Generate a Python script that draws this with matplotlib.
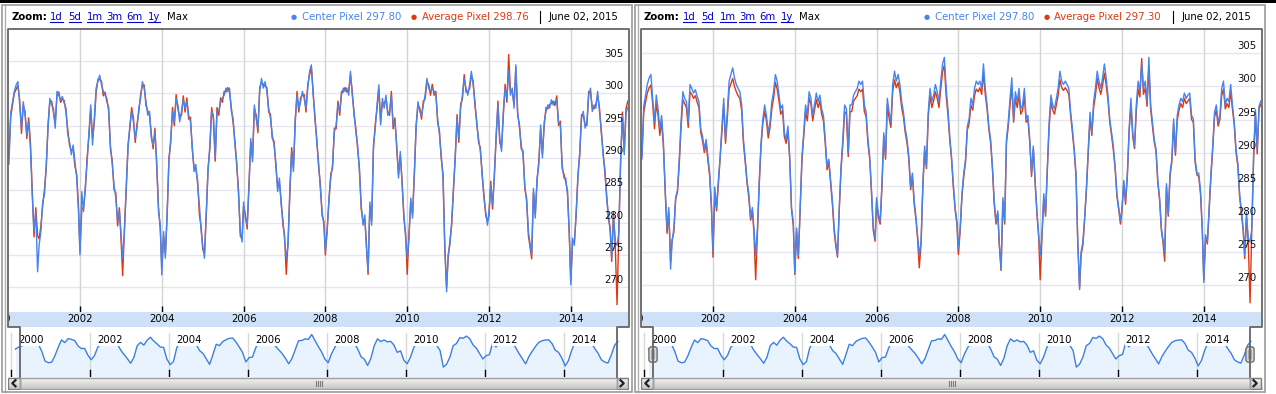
import numpy as np
import pandas as pd
import matplotlib
matplotlib.use("Agg")
import matplotlib.pyplot as plt
from matplotlib.patches import Rectangle, FancyBboxPatch
from matplotlib.lines import Line2D
from matplotlib.colors import LinearSegmentedColormap
import matplotlib.transforms as mtransforms

plt.rcParams['font.family'] = ['DejaVu Sans']

# ---------------- data (16-day composites, 2000 DOY 49 .. 2015 DOY 145) ----------------
center_pixel = [
    290.0, 291.0, 293.0, 289.0, 297.0, 298.7, 300.3, 301.3, 301.8, 298.2, 294.6, 298.7, 296.6, 293.6, 295.6, 291.5, 284.3, 278.6, 281.7, 272.4,
    276.5, 278.6, 283.2, 284.3, 289.0, 294.6, 299.2, 298.2, 297.7, 294.6, 300.3, 299.7, 299.0, 299.5, 298.5, 297.7, 293.6, 292.5, 290.5, 292.0, 289.4, 286.9, 281.7,
    275.0, 284.8, 281.7, 285.8, 289.4, 294.0, 298.2, 292.0, 296.1, 300.8, 301.8, 302.8, 301.3, 300.3, 299.7, 299.2, 297.2, 292.0, 289.0, 285.8, 283.8, 280.2, 281.7,
    278.6, 274.5, 278.6, 285.8, 291.5, 295.1, 297.2, 295.6, 293.0, 294.6, 297.7, 299.2, 301.8, 300.8, 298.7, 296.6, 297.2, 293.0, 292.0, 294.0, 289.4, 281.7, 279.6,
    271.9, 278.6, 274.5, 281.7, 289.4, 293.0, 297.2, 295.6, 299.2, 298.2, 295.6, 297.2, 299.0, 297.7, 298.7, 296.6, 295.6, 292.0, 287.9, 289.0, 285.8, 282.7, 278.6,
    276.5, 274.5, 281.7, 287.9, 292.0, 297.2, 296.6, 290.0, 297.2, 297.2, 298.7, 299.2, 299.7, 300.8, 300.3, 300.8, 297.2, 296.1, 292.0, 289.4, 284.3, 278.6, 277.0,
    283.2, 280.7, 279.6, 285.3, 293.0, 289.4, 298.2, 296.1, 294.6, 300.3, 302.3, 300.8, 301.8, 300.3, 297.7, 296.1, 293.6, 292.0, 289.4, 284.8, 286.9, 282.7, 280.2,
    277.6, 274.5, 276.5, 285.3, 291.0, 287.9, 296.1, 299.7, 297.7, 298.7, 300.3, 299.2, 297.7, 300.8, 303.4, 304.4, 299.7, 296.6, 292.5, 289.4, 285.3, 281.7, 279.6,
    275.5, 278.6, 283.8, 286.9, 289.0, 294.0, 295.1, 298.2, 297.2, 299.7, 300.8, 300.3, 300.8, 299.7, 303.4, 299.7, 297.2, 294.0, 292.0, 287.9, 282.7, 279.6, 281.2,
    276.5, 272.4, 283.2, 279.6, 292.0, 294.6, 298.2, 301.3, 295.1, 299.2, 297.7, 299.7, 296.6, 297.2, 299.7, 295.1, 295.6, 292.0, 286.9, 291.0, 285.8, 281.2, 277.6,
    274.5, 277.6, 283.8, 280.7, 287.9, 294.6, 298.7, 297.2, 296.6, 298.2, 299.7, 302.3, 300.8, 300.3, 300.8, 300.3, 299.7, 296.1, 293.6, 290.5, 286.9, 276.5, 269.3,
    275.0, 276.5, 280.2, 284.8, 290.5, 296.1, 293.0, 297.7, 299.7, 302.3, 300.8, 299.7, 301.3, 303.4, 301.3, 298.7, 295.1, 293.0, 291.0, 287.9, 283.8, 281.7, 279.6,
    281.7, 285.8, 282.7, 286.9, 293.6, 298.2, 293.0, 291.0, 297.2, 300.8, 299.2, 303.5, 299.7, 300.8, 297.7, 304.4, 297.2, 294.6, 292.0, 290.5, 285.8, 283.2, 278.6,
    277.0, 275.0, 285.3, 280.7, 286.9, 289.0, 295.1, 290.0, 295.6, 297.2, 298.2, 297.7, 299.0, 298.2, 298.7, 299.0, 295.6, 295.1, 289.0, 286.9, 286.9, 284.3, 278.6,
    270.4, 277.6, 276.5, 281.7, 286.9, 291.0, 296.1, 297.2, 294.6, 295.6, 299.7, 300.8, 297.2, 298.2, 297.7, 300.3, 297.2, 294.6, 290.5, 288.4, 283.8, 281.2, 278.6,
    274.5, 281.0, 277.0, 276.5, 278.5, 290.0, 296.5, 290.5, 297.0, 297.8,
]

average_pixel_left = [
    290.3, 291.4, 292.5, 290.5, 296.4, 298.2, 300.0, 300.6, 301.2, 299.0, 293.8, 298.1, 297.2, 293.0, 296.2, 292.4, 285.0, 277.8, 282.3, 278.0,
    277.5, 279.5, 282.6, 285.1, 288.4, 295.2, 298.6, 298.8, 297.1, 295.3, 299.6, 300.2, 298.6, 299.1, 298.9, 297.1, 294.4, 291.9, 291.1, 291.5, 288.7, 287.5, 282.4,
    275.6, 282.0, 282.4, 285.1, 290.1, 293.4, 297.6, 293.1, 295.5, 300.1, 302.2, 302.1, 301.9, 299.6, 300.2, 298.7, 297.8, 291.3, 289.6, 285.1, 284.6, 279.5, 282.3,
    277.9, 271.8, 279.3, 285.1, 292.1, 294.5, 297.8, 296.2, 292.4, 295.2, 297.1, 299.8, 301.2, 301.3, 298.1, 297.3, 296.6, 293.6, 291.4, 294.6, 288.7, 282.4, 278.9,
    273.0, 277.9, 275.2, 281.1, 290.0, 292.4, 297.8, 295.0, 299.8, 297.6, 296.3, 296.6, 299.6, 297.1, 299.3, 296.0, 296.3, 291.3, 288.6, 288.3, 286.5, 281.2, 279.3,
    275.9, 275.2, 281.1, 288.5, 291.4, 297.8, 295.9, 289.5, 297.8, 296.6, 299.3, 298.6, 300.3, 300.2, 300.9, 300.1, 297.8, 295.4, 292.6, 288.8, 285.0, 277.9, 277.6,
    282.5, 281.3, 279.0, 286.0, 292.4, 290.0, 297.6, 296.7, 293.9, 300.9, 301.7, 301.4, 301.1, 300.9, 297.1, 296.8, 293.0, 292.6, 288.8, 285.5, 286.2, 283.3, 279.6,
    278.2, 272.0, 277.2, 284.6, 291.6, 288.5, 295.4, 300.3, 297.1, 299.3, 299.7, 299.8, 297.1, 301.4, 302.8, 304.0, 300.3, 296.0, 293.1, 288.8, 286.0, 281.1, 280.2,
    275.0, 279.2, 283.2, 287.5, 288.4, 294.6, 294.5, 298.8, 296.6, 300.3, 300.2, 300.9, 300.2, 300.3, 302.8, 300.3, 296.6, 294.6, 291.4, 288.5, 282.1, 280.2, 280.6,
    277.1, 272.0, 282.6, 280.2, 291.4, 295.2, 297.6, 300.7, 295.7, 298.6, 298.3, 299.1, 297.2, 296.6, 300.3, 294.5, 296.2, 291.4, 287.5, 290.4, 286.4, 280.6, 278.2,
    272.0, 278.2, 283.2, 281.3, 287.3, 295.2, 298.1, 297.8, 296.0, 298.8, 299.1, 301.7, 301.4, 299.7, 301.4, 299.7, 300.3, 295.5, 294.2, 289.9, 287.5, 275.9, 270.0,
    274.4, 277.1, 279.6, 285.4, 289.9, 296.7, 292.4, 298.3, 299.1, 302.9, 300.2, 300.3, 300.7, 302.8, 301.9, 298.1, 295.7, 292.4, 291.6, 287.3, 284.4, 281.1, 280.2,
    281.1, 286.4, 282.1, 287.5, 293.0, 298.8, 292.4, 291.6, 296.6, 301.4, 298.6, 306.0, 300.3, 300.2, 298.3, 304.0, 296.6, 295.2, 291.4, 291.1, 285.2, 283.8, 278.0,
    276.4, 274.4, 284.7, 281.3, 286.3, 289.6, 294.5, 290.6, 295.0, 297.8, 297.6, 298.3, 298.4, 298.8, 298.1, 299.6, 295.0, 295.7, 288.4, 287.5, 286.3, 284.9, 278.0,
    271.0, 277.0, 277.1, 281.1, 287.5, 290.4, 296.7, 296.6, 295.2, 295.0, 300.3, 300.2, 297.8, 297.6, 298.3, 299.7, 297.8, 294.0, 291.1, 287.8, 284.4, 280.6, 279.2,
    274.0, 281.6, 276.4, 267.3, 279.0, 289.4, 297.1, 291.0, 297.6, 298.8,
]

average_pixel_right = [
    290.0, 290.8, 292.4, 289.5, 296.0, 297.6, 299.0, 299.8, 300.2, 297.4, 293.6, 297.4, 295.6, 292.6, 294.8, 290.8, 284.0, 277.8, 281.0, 273.5,
    276.8, 278.0, 283.0, 284.0, 288.2, 293.8, 298.0, 297.4, 296.8, 293.8, 299.2, 298.8, 298.2, 298.6, 297.6, 296.8, 293.0, 291.8, 290.0, 291.4, 288.8, 286.4, 281.4,
    274.2, 283.8, 281.2, 285.2, 289.0, 293.2, 297.2, 291.4, 295.2, 299.6, 300.4, 301.2, 300.0, 299.2, 298.6, 298.2, 296.4, 291.4, 288.6, 285.4, 283.2, 279.8, 281.2,
    278.0, 270.8, 278.0, 285.2, 291.0, 294.4, 296.2, 294.8, 292.2, 293.8, 296.6, 298.2, 300.6, 299.6, 297.8, 295.8, 296.4, 292.4, 291.4, 293.2, 289.0, 281.4, 279.0,
    271.6, 278.0, 274.0, 281.2, 288.8, 292.4, 296.2, 294.8, 298.2, 297.4, 294.8, 296.4, 298.0, 296.8, 297.8, 295.8, 294.8, 291.4, 287.4, 288.6, 285.4, 282.2, 278.0,
    276.0, 274.2, 281.4, 287.4, 291.4, 296.2, 295.8, 289.4, 296.2, 296.2, 297.8, 298.2, 298.6, 299.6, 299.2, 299.6, 296.2, 295.4, 291.4, 289.0, 283.8, 278.2, 276.6,
    282.6, 280.2, 279.2, 284.8, 292.4, 289.0, 297.2, 295.2, 293.8, 299.2, 301.0, 299.8, 300.6, 299.2, 296.8, 295.4, 293.0, 291.4, 289.0, 284.4, 286.4, 282.2, 279.8,
    277.2, 272.6, 276.2, 284.8, 290.4, 287.6, 295.4, 298.6, 296.8, 297.8, 299.2, 298.2, 296.8, 299.6, 302.2, 303.2, 298.6, 295.8, 292.0, 289.0, 284.8, 281.4, 279.2,
    274.6, 278.2, 283.4, 286.4, 288.6, 293.4, 294.4, 297.2, 296.4, 298.6, 299.6, 299.2, 299.8, 298.8, 302.0, 298.8, 296.6, 293.6, 291.4, 287.6, 282.2, 279.2, 280.8,
    276.0, 272.2, 282.6, 279.2, 291.4, 294.0, 297.2, 300.0, 294.6, 298.2, 296.8, 298.6, 295.8, 296.4, 298.6, 294.6, 295.0, 291.6, 286.4, 290.6, 285.4, 280.8, 277.2,
    270.8, 277.2, 283.2, 280.4, 287.4, 293.8, 297.6, 296.4, 295.8, 297.2, 298.6, 301.0, 299.8, 299.4, 299.8, 299.4, 298.8, 295.6, 293.0, 290.2, 286.4, 276.2, 269.6,
    274.6, 276.0, 280.0, 284.4, 290.0, 295.2, 292.6, 296.8, 298.6, 301.2, 299.8, 298.8, 300.2, 302.0, 300.2, 298.0, 294.6, 292.6, 290.4, 287.6, 283.4, 281.4, 279.2,
    281.2, 285.4, 282.2, 286.4, 293.2, 297.2, 292.4, 290.6, 296.4, 299.6, 298.4, 304.2, 298.8, 299.8, 297.0, 303.0, 296.6, 294.0, 291.6, 290.2, 285.4, 282.8, 278.2,
    276.6, 273.6, 284.8, 280.4, 286.4, 288.6, 294.4, 289.6, 294.8, 296.4, 297.4, 296.8, 298.2, 297.4, 297.8, 298.2, 295.0, 294.6, 288.6, 286.6, 286.4, 283.8, 278.2,
    270.8, 277.2, 276.2, 281.4, 286.4, 290.6, 295.4, 296.4, 294.0, 295.0, 298.6, 299.6, 296.6, 297.4, 296.8, 299.2, 296.6, 294.2, 290.0, 288.0, 283.4, 280.8, 278.2,
    274.0, 280.2, 276.4, 267.3, 278.8, 289.2, 295.8, 289.8, 296.6, 297.3,
]

legend_center = "Center Pixel 297.80"
legend_avg_left = "Average Pixel 298.76"
legend_avg_right = "Average Pixel 297.30"
legend_date = "June 02, 2015"
zoom_links = ["1d", "5d", "1m", "3m", "6m", "1y"]
y_ticks = [270, 275, 280, 285, 290, 295, 300, 305]
year_ticks = [2000, 2002, 2004, 2006, 2008, 2010, 2012, 2014]

# ---------------- time axis ----------------
comp_year, comp_doy = [], []
for yr in range(2000, 2016):
    k_first = 3 if yr == 2000 else 0
    k_last = 10 if yr == 2015 else 23
    for k in range(k_first, k_last):
        comp_year.append(yr)
        comp_doy.append(1 + 16 * k)
comp_year = np.array(comp_year)
comp_doy = np.array(comp_doy)
t = comp_year + (comp_doy - 1) / 365.25
assert len(center_pixel) == len(t), len(center_pixel)
assert len(average_pixel_left) == len(t), len(average_pixel_left)
assert len(average_pixel_right) == len(t), len(average_pixel_right)

dates = pd.to_datetime([f"{y}{d:03d}" for y, d in zip(comp_year, comp_doy)], format="%Y%j")
monthly = pd.Series(center_pixel, index=dates).resample("MS").mean().dropna()
t_month = monthly.index.year + (monthly.index.month - 1) / 12 + 0.5 / 12

# ---------------- figure helpers ----------------
W, H = 1276, 394
fig = plt.figure(figsize=(W / 100, H / 100), dpi=100)
fig.patch.set_facecolor("white")
BLUE = "#4684ee"
RED = "#dc3912"
FS = 7.3


def add_ax(x0, y0, x1, y1, **kw):
    return fig.add_axes([x0 / W, 1 - y1 / H, (x1 - x0) / W, (y1 - y0) / H], **kw)


def ftext(x, y, s, **kw):
    return fig.text(x / W, 1 - y / H, s, **kw)


def frect(x0, y0, x1, y1, **kw):
    r = Rectangle((x0 / W, 1 - y1 / H), (x1 - x0) / W, (y1 - y0) / H,
                  transform=fig.transFigure, **kw)
    fig.patches.append(r)
    return r


def fline(xs, ys, **kw):
    ln = Line2D([x / W for x in xs], [1 - y / H for y in ys], transform=fig.transFigure, **kw)
    fig.lines.append(ln)
    return ln


grad_cmap = LinearSegmentedColormap.from_list("g", ["#f6f6f6", "#dcdcdc", "#c4c4c4"])
renderer = fig.canvas.get_renderer()

# top black bar
frect(0, 0, W, 3, fc="black", ec="none", zorder=-5)

XMIN, XMAX = 2000.240, 2015.399
NXMIN, NXMAX = 2000 - 2.5 / 39.5, 2000 + 618.0 / 39.5


def draw_panel(ox, avg_series, avg_text, ylim, handles):
    # outer frame
    frect(ox + 2, 5, ox + 632, 392, fill=False, ec="#9a9a9a", lw=1.2, zorder=-1)
    fline([ox + 5, ox + 5], [5, 392], color="#b0b0b0", lw=1, zorder=-1)

    # ---- toolbar ----
    ty = 20.5
    ftext(ox + 11, ty, "Zoom:", fontsize=FS, fontweight="bold", va="baseline", ha="left")
    link_x = [50, 68.5, 86.5, 106, 126.5, 148]
    for lx, lab in zip(link_x, zoom_links):
        tx = ftext(ox + lx, ty, lab, fontsize=FS, color="#0000cc", va="baseline", ha="left")
        bb = tx.get_window_extent(renderer)
        fline([bb.x0, bb.x1], [ty + 1.8, ty + 1.8], color="#0000cc", lw=0.8)
    ftext(ox + 166.5, ty, "Max", fontsize=FS, color="black", va="baseline", ha="left")

    ftext(ox + 294, ty - 3.3, "\u25CF", fontsize=5, color=BLUE, va="center", ha="center")
    ftext(ox + 302, ty, legend_center, fontsize=FS, color=BLUE, va="baseline", ha="left")
    ftext(ox + 413.5, ty - 3.3, "\u25CF", fontsize=5, color=RED, va="center", ha="center")
    ftext(ox + 421.5, ty, avg_text, fontsize=FS, color=RED, va="baseline", ha="left")
    fline([ox + 540, ox + 540], [11, 22.5], color="black", lw=0.8)
    ftext(ox + 618, ty, legend_date, fontsize=FS, color="black", va="baseline", ha="right")

    # ---- main plot ----
    ax = add_ax(ox + 8, 28.5, ox + 628, 311.5)
    ax.set_xlim(XMIN, XMAX)
    ax.set_ylim(*ylim)
    for v in y_ticks:
        ax.axhline(v, color="#e6e6f0", lw=1, zorder=1)
    for yr in year_ticks:
        ax.axvline(yr, color="#d2d6d2", lw=1, zorder=1)
    ax.plot(t, avg_series, color=RED, lw=1.0, zorder=3, solid_joinstyle="round")
    ax.plot(t, center_pixel, color=BLUE, lw=1.0, zorder=4, solid_joinstyle="round")
    ax.set_xticks([])
    ax.set_yticks([])
    for s in ax.spines.values():
        s.set_visible(False)
    trx = mtransforms.blended_transform_factory(ax.transData, ax.transAxes)
    ax.vlines(year_ticks, 0, 5.5 / 283, color="black", lw=1, transform=trx, zorder=5)
    try_ = mtransforms.offset_copy(
        mtransforms.blended_transform_factory(ax.transAxes, ax.transData), fig=fig, y=4, units="dots")
    for v in y_ticks:
        ax.text(0.9927, v, str(v), transform=try_, ha="right", va="baseline",
                fontsize=FS, color="#111111", zorder=6)

    # ---- date band ----
    band = add_ax(ox + 8, 311.5, ox + 628, 326.5)
    band.set_facecolor("#cfe1f7")
    band.set_xlim(XMIN, XMAX)
    band.set_ylim(0, 1)
    band.set_xticks([])
    band.set_yticks([])
    for s in band.spines.values():
        s.set_visible(False)
    for yr in year_ticks:
        band.text(yr, 0.32, str(yr), ha="center", va="baseline", fontsize=FS, clip_on=True)

    # ---- navigator ----
    nav = add_ax(ox + 8, 326.5, ox + 628.5, 377)
    nav.set_xlim(NXMIN, NXMAX)
    nav.set_ylim(263.5, 311.5)
    nav.set_xticks([])
    nav.set_yticks([])
    for s in nav.spines.values():
        s.set_visible(False)
    nav.fill_between(t_month, monthly.values, 263.5, color="#e8f3fd", lw=0, zorder=1)
    for yr in year_ticks:
        nav.axvline(yr, ymin=0.14, ymax=0.87, color="#d3dbd3", lw=1, zorder=2)
        nav.axvline(yr, ymin=0.025, ymax=0.14, color="black", lw=1, zorder=2)
    nav.plot(t_month, monthly.values, color="#3d7fe0", lw=1.0, zorder=3)
    for yr in year_ticks:
        nav.text(yr + 7.5 / 39.5, 0.667, str(yr), transform=mtransforms.blended_transform_factory(nav.transData, nav.transAxes),
                 ha="left", va="baseline", fontsize=FS, zorder=4,
                 bbox=dict(fc="white", ec="none", pad=0.3))

    # ---- scrollbar ----
    sb = add_ax(ox + 7.5, 377, ox + 628.5, 389.5)
    sbw = 621.0
    sb.set_xlim(0, sbw)
    sb.set_ylim(12.5, 0)
    sb.imshow(np.linspace(0, 1, 24)[:, None], extent=[0, sbw, 12.5, 0], aspect="auto",
              cmap=grad_cmap, interpolation="bilinear")
    for a, b in [(0.5, 12.5), (609.5, 620.5)]:
        sb.add_patch(Rectangle((a, 0.5), b - a, 11.5, fill=False, ec="#7f7f7f", lw=1))
    sb.add_patch(Rectangle((12.5, 0.8), 597, 11.0, fill=False, ec="#a0a0a0", lw=1))
    sb.plot([8, 4.8, 8], [3.2, 6.25, 9.3], color="#222222", lw=1.6)
    sb.plot([613, 616.2, 613], [3.2, 6.25, 9.3], color="#222222", lw=1.6)
    for gx in [308.5, 310.5, 312.5, 314.5]:
        sb.plot([gx, gx], [4, 9], color="#7a7a7a", lw=0.8)
    sb.axis("off")

    # ---- frames ----
    fline([ox + 20, ox + 20, ox + 7.5, ox + 7.5, ox + 628.5, ox + 628.5, ox + 617, ox + 617],
          [377, 326.5, 326.5, 28.5, 28.5, 326.5, 326.5, 377], color="#666666", lw=1.3, zorder=5)

    if handles:
        for cx in (20, 617):
            hax = add_ax(ox + cx - 5, 346, ox + cx + 5, 363)
            hax.set_xlim(0, 10)
            hax.set_ylim(17, 0)
            hax.add_patch(FancyBboxPatch((1.5, 1.5), 7, 14, boxstyle="round,pad=0.6,rounding_size=2.5",
                                         fc="#d9d9d9", ec="#6e6e6e", lw=1))
            hax.add_patch(FancyBboxPatch((3.2, 3.5), 3.6, 10, boxstyle="round,pad=0.2,rounding_size=1.2",
                                         fc="#a9a9a9", ec="none"))
            hax.axis("off")


draw_panel(0, average_pixel_left, legend_avg_left, (266.26, 310.02), False)
draw_panel(633, average_pixel_right, legend_avg_right, (266.0, 308.75), True)

fig.savefig("out.png", dpi=100, facecolor="white")
